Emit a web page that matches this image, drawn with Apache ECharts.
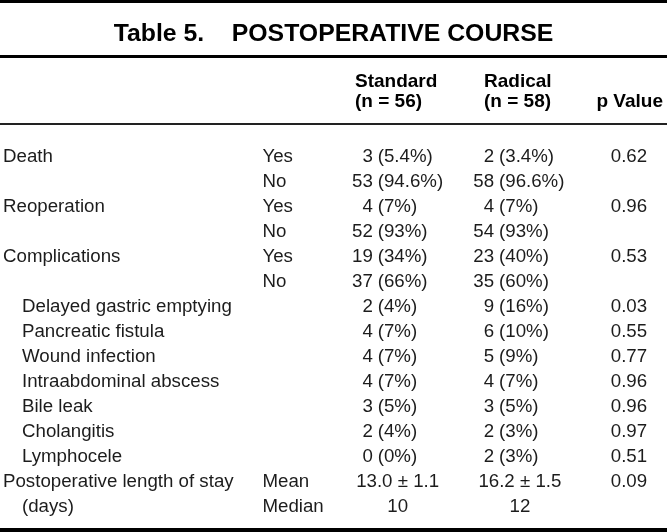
<!DOCTYPE html>
<html>
<head>
<meta charset="utf-8">
<script src="https://cdn.jsdelivr.net/npm/echarts@6/dist/echarts.min.js"></script>
<style>
html,body{margin:0;padding:0;background:#fff;}
#chart{width:667px;height:532px;}
</style>
</head>
<body>
<div id="chart"></div>
<script>
// ---- data ----
const titleText = 'Table 5.    POSTOPERATIVE COURSE';
const groupHeaders = ['Standard', 'Radical'];
const groupN = [56, 58];
const pHeader = 'p Value';
const rowLabels = ['Death', '', 'Reoperation', '', 'Complications', '',
  'Delayed gastric emptying', 'Pancreatic fistula', 'Wound infection',
  'Intraabdominal abscess', 'Bile leak', 'Cholangitis', 'Lymphocele',
  'Postoperative length of stay', '(days)'];
const indentedRows = [6, 7, 8, 9, 10, 11, 12, 14];
const subLabels = ['Yes', 'No', 'Yes', 'No', 'Yes', 'No', '', '', '', '', '', '', '', 'Mean', 'Median'];
const standardCount = [3, 53, 4, 52, 19, 37, 2, 4, 4, 4, 3, 2, 0];
const standardPct = ['5.4', '94.6', '7', '93', '34', '66', '4', '7', '7', '7', '5', '4', '0'];
const radicalCount = [2, 58, 4, 54, 23, 35, 9, 6, 5, 4, 3, 2, 2];
const radicalPct = ['3.4', '96.6', '7', '93', '40', '60', '16', '10', '9', '7', '5', '3', '3'];
const standardStay = ['13.0 ± 1.1', '10'];
const radicalStay = ['16.2 ± 1.5', '12'];
const stayRows = [13, 14];
const pValues = ['0.62', '', '0.96', '', '0.53', '', '0.03', '0.55', '0.77', '0.96', '0.96', '0.97', '0.51', '0.09', ''];

// ---- layout ----
const FONT = '"Liberation Sans", Arial, Helvetica, sans-serif';
const COLOR = '#1c1c1c';
const FS = 18.7;
const col = { sub: 260, stdNum: 371, stdPct: 376, radNum: 493, radPct: 498, stdStay: 396, radStay: 519, p: 647 };
const hdr = { std: 355, rad: 484, pRight: 663, line1: 83, line2: 103 };

const chart = echarts.init(document.getElementById('chart'), null, { renderer: 'canvas' });

function labelSeries(name, x, rows, texts, align) {
  return {
    type: 'scatter', name, silent: true, symbolSize: 1,
    itemStyle: { color: 'rgba(255,255,255,0)' },
    data: rows.map((r, i) => ({ value: [x, r], txt: texts[i] })),
    label: {
      show: true, position: 'inside', align, verticalAlign: 'middle',
      fontFamily: FONT, fontSize: FS, color: COLOR,
      textBorderWidth: 0, textBorderColor: 'transparent', opacity: 1,
      formatter: p => p.data.txt
    }
  };
}
const countRows = standardCount.map((_, i) => i);
const pRows = pValues.map((_, i) => i).filter(i => pValues[i] !== '');
const subRows = subLabels.map((_, i) => i).filter(i => subLabels[i] !== '');

const option = {
  animation: false,
  backgroundColor: '#fff',
  title: {
    text: titleText, left: 'center', top: 17,
    textStyle: { fontFamily: FONT, fontSize: 24.8, fontWeight: 'bold', color: '#000' }
  },
  grid: { left: 0, right: 0, top: 144.5, height: 375 },
  xAxis: { type: 'value', min: 0, max: 667, show: false },
  yAxis: {
    type: 'category', inverse: true, data: rowLabels,
    axisLine: { show: false }, axisTick: { show: false }, splitLine: { show: false },
    axisLabel: {
      inside: true, interval: 0, margin: -1, align: 'left',
      fontFamily: FONT, fontSize: FS, color: COLOR,
      formatter: (v, i) => indentedRows.includes(i) ? '{ind|' + v + '}' : v,
      rich: { ind: { padding: [0, 0, 0, 19], fontFamily: FONT, fontSize: FS, color: COLOR } }
    }
  },
  series: [
    labelSeries('sub', col.sub, subRows, subRows.map(i => subLabels[i]), 'left'),
    labelSeries('stdCount', col.stdNum, countRows, standardCount.map(String), 'right'),
    labelSeries('stdPct', col.stdPct, countRows, standardPct.map(p => '(' + p + '%)'), 'left'),
    labelSeries('radCount', col.radNum, countRows, radicalCount.map(String), 'right'),
    labelSeries('radPct', col.radPct, countRows, radicalPct.map(p => '(' + p + '%)'), 'left'),
    labelSeries('stdStay', col.stdStay, stayRows, standardStay, 'center'),
    labelSeries('radStay', col.radStay, stayRows, radicalStay, 'center'),
    labelSeries('p', col.p, pRows, pRows.map(i => pValues[i]), 'right')
  ],
  graphic: [
    { type: 'rect', shape: { x: 0, y: 0, width: 667, height: 3 }, style: { fill: '#000' } },
    { type: 'rect', shape: { x: 0, y: 55, width: 667, height: 3 }, style: { fill: '#000' } },
    { type: 'rect', shape: { x: 0, y: 123, width: 667, height: 2 }, style: { fill: '#222' } },
    { type: 'rect', shape: { x: 0, y: 528, width: 667, height: 4 }, style: { fill: '#000' } },
    { type: 'text', left: hdr.std, top: hdr.line1 - 11, style: { text: groupHeaders[0] + '\n(n = ' + groupN[0] + ')', font: 'bold 19px ' + FONT, fill: '#000', lineHeight: 20 } },
    { type: 'text', left: hdr.rad, top: hdr.line1 - 11, style: { text: groupHeaders[1] + '\n(n = ' + groupN[1] + ')', font: 'bold 19px ' + FONT, fill: '#000', lineHeight: 20 } },
    { type: 'text', right: 667 - hdr.pRight, top: hdr.line2 - 11, style: { text: pHeader, font: 'bold 19px ' + FONT, fill: '#000', lineHeight: 20 } }
  ]
};
chart.setOption(option);
</script>
</body>
</html>
